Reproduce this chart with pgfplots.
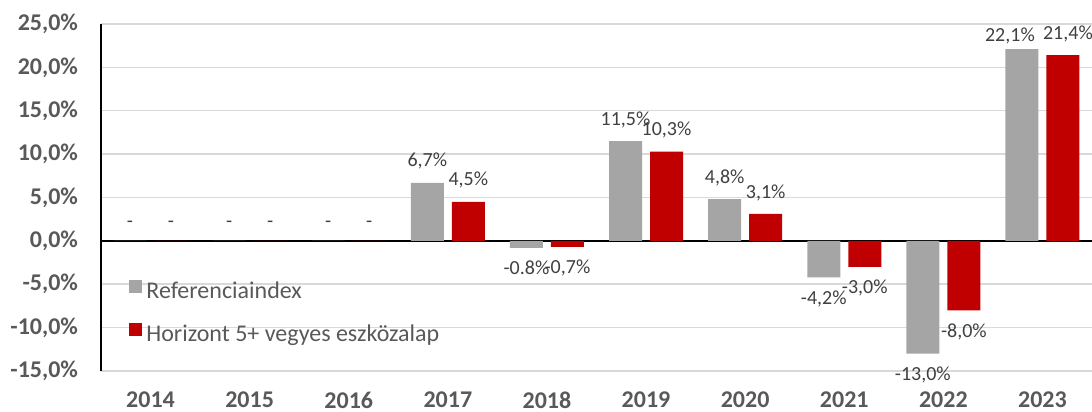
\documentclass[border=0pt]{standalone}
\usepackage{fontspec}
\setmainfont{Carlito}
\usepackage{pgfplots}
\pgfplotsset{compat=1.18}
\definecolor{refgray}{HTML}{A5A5A5}
\definecolor{fundred}{HTML}{C00000}
\definecolor{ticktext}{HTML}{595959}
\definecolor{labtext}{HTML}{404040}
\definecolor{gridc}{HTML}{D9D9D9}
\begin{document}
\begin{tikzpicture}
\begin{axis}[
  at={(0,0)}, anchor=south west,
  scale only axis, width=495.5pt, height=173.5pt,
  xmin=-0.5, xmax=9.5, ymin=-15, ymax=25,
  ybar=4pt, bar width=16.5pt,
  xtick={0,1,2,3,4,5,6,7,8,9},
  xticklabels={2014,2015,2016,2017,2018,2019,2020,2021,2022,2023},
  ytick={-15,-10,-5,0,5,10,15,20,25},
  yticklabels={{-15,0\%},{-10,0\%},{-5,0\%},{0,0\%},{5,0\%},{10,0\%},{15,0\%},{20,0\%},{25,0\%}},
  major tick length=0pt,
  axis x line*=bottom, axis y line*=left,
  x axis line style={draw=none},
  y axis line style={black, line width=1pt},
  ymajorgrids, grid style={gridc, line width=0.75pt},
  extra y ticks={0}, extra y tick labels={},
  extra y tick style={grid style={black, line width=1pt}},
  yticklabel style={font=\bfseries\fontsize{12}{14}\selectfont, text=ticktext, xshift=-8pt},
  xticklabel style={font=\bfseries\fontsize{12}{14}\selectfont, text=ticktext, yshift=-7pt},
  point meta=explicit symbolic,
  visualization depends on={rawy \as \rawy},
  nodes near coords,
  every node near coord/.append style={font=\fontsize{10}{12}\selectfont, text=labtext, inner ysep=6.5pt, inner xsep=0pt},
  every node near coord/.append code={\ifdim\rawy pt<0pt \pgfkeysalso{anchor=north}\else\pgfkeysalso{anchor=south}\fi},
  legend style={draw=none, fill=none, at={(axis description cs:0,0)}, anchor=south west,
    xshift=11pt, yshift=7.5pt, font=\fontsize{12}{14}\selectfont, text=ticktext, row sep=5.5pt,
    nodes={text height=9pt, text depth=3pt, inner ysep=2pt}},
  legend cell align=left,
  legend image code/.code={\fill[#1] (0pt,0pt) rectangle (6.5pt,6.5pt);},
]
\addplot[fill=refgray, draw=none] coordinates {
  (0,0) [-] (1,0) [-] (2,0) [-] (3,6.7) [6,7\%] (4,-0.8) [-0.8\%]
  (5,11.5) [11,5\%] (6,4.8) [4,8\%] (7,-4.2) [-4,2\%] (8,-13.0) [-13,0\%]
  (9,22.1) [{\makebox[0pt]{\smash{\raisebox{-3pt}{22,1\%}}\kern12pt}}]
};
\addlegendentry{Referenciaindex}
\addplot[fill=fundred, draw=none] coordinates {
  (0,0) [-] (1,0) [-] (2,0) [-] (3,4.5) [4,5\%] (4,-0.7) [-0,7\%]
  (5,10.3) [10,3\%] (6,3.1) [3,1\%] (7,-3.0) [-3,0\%] (8,-8.0) [-8,0\%]
  (9,21.4) [{\makebox[0pt]{\kern5pt 21,4\%}}]
};
\addlegendentry{Horizont 5+ vegyes eszközalap}
\end{axis}
\pgfresetboundingbox
\path[use as bounding box] (-50.5pt,-20.5pt) rectangle (495.5pt,185.5pt);
\end{tikzpicture}
\end{document}
